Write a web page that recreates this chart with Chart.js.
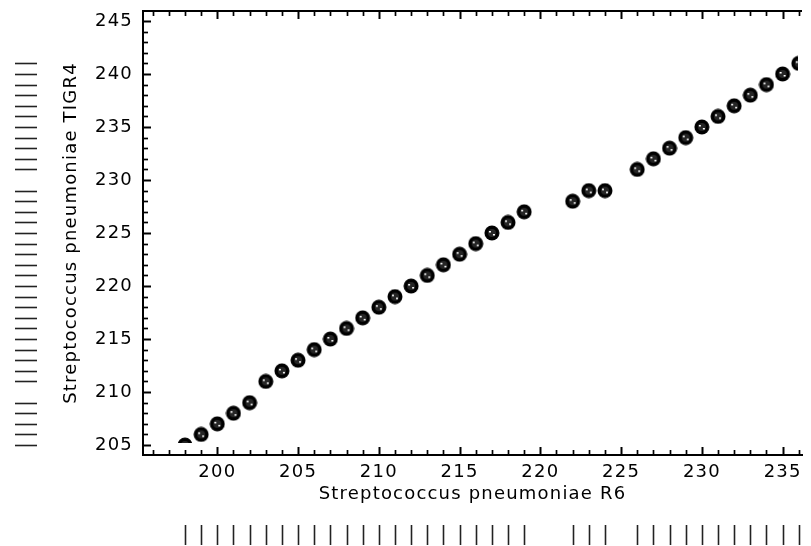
<!DOCTYPE html>
<html>
<head>
<meta charset="utf-8">
<script src="https://cdn.jsdelivr.net/npm/chart.js@4.4.1/dist/chart.umd.min.js"></script>
<style>
  html, body { margin: 0; padding: 0; background: #fff; }
  #chart { display: block; }
</style>
</head>
<body>
<canvas id="chart" width="811" height="546"></canvas>
<script>
// data
var r6    = [198,199,200,201,202,203,204,205,206,207,208,209,210,211,212,213,214,215,216,217,218,219,222,223,224,226,227,228,229,230,231,232,233,234,235,236];
var tigr4 = [205,206,207,208,209,211,212,213,214,215,216,217,218,219,220,221,222,223,224,225,226,227,228,229,229,231,232,233,234,235,236,237,238,239,240,241];
var xTicks = [200,205,210,215,220,225,230,235];
var yTicks = [205,210,215,220,225,230,235,240,245];
var xTitle = 'Streptococcus pneumoniae R6';
var yTitle = 'Streptococcus pneumoniae TIGR4';

var FONT = 'DejaVu Sans';

function unique(arr) {
  return arr.filter(function(v, i) { return arr.indexOf(v) === i; });
}

// round black marker with small white specks
function makeMarker() {
  var c = document.createElement('canvas');
  c.width = 16; c.height = 16;
  var g = c.getContext('2d');
  g.fillStyle = '#000';
  g.beginPath(); g.arc(8, 8, 7.5, 0, Math.PI * 2); g.fill();
  g.fillStyle = '#262626';
  g.beginPath(); g.arc(8, 8, 4, 0, Math.PI * 2); g.fill();
  g.fillStyle = '#fff';
  g.fillRect(5, 6, 2, 1.5);
  g.fillRect(9, 9, 2, 1.5);
  return c;
}

// letter spacing so the text is as wide as in the picture
var spacing = {
  id: 'spacing',
  beforeUpdate: function(chart) { chart.ctx.letterSpacing = '1.2px'; },
  beforeDraw: function(chart) { chart.ctx.letterSpacing = '1.2px'; }
};

// top border + inward ticks
var frame = {
  id: 'frame',
  afterDraw: function(chart) {
    var ctx = chart.ctx, xs = chart.scales.x, ys = chart.scales.y;
    var a = chart.chartArea;
    ctx.save();
    ctx.strokeStyle = '#000';
    ctx.lineWidth = 2;
    ctx.beginPath(); ctx.moveTo(a.left, a.top); ctx.lineTo(a.right, a.top); ctx.stroke();
    var v, p, len;
    for (v = Math.ceil(xs.min); v <= Math.floor(xs.max); v++) {
      p = Math.round(xs.getPixelForValue(v)) + 0.5;
      len = v % 5 === 0 ? 8 : 5;
      ctx.lineWidth = v % 5 === 0 ? 2 : 1.7;
      ctx.beginPath(); ctx.moveTo(p, a.bottom); ctx.lineTo(p, a.bottom - len); ctx.stroke();
      ctx.beginPath(); ctx.moveTo(p, a.top); ctx.lineTo(p, a.top + len); ctx.stroke();
    }
    for (v = Math.ceil(ys.min); v <= Math.floor(ys.max); v++) {
      p = Math.round(ys.getPixelForValue(v)) + 0.5;
      len = v % 5 === 0 ? 8 : 5;
      ctx.lineWidth = v % 5 === 0 ? 2 : 1.7;
      ctx.beginPath(); ctx.moveTo(a.left, p); ctx.lineTo(a.left + len, p); ctx.stroke();
    }
    ctx.restore();
  }
};

// rug marks outside the plot
var rug = {
  id: 'rug',
  afterDraw: function(chart) {
    var ctx = chart.ctx, xs = chart.scales.x, ys = chart.scales.y;
    ctx.save();
    ctx.strokeStyle = '#222';
    ctx.lineWidth = 1.6;
    unique(r6).forEach(function(v) {
      var p = Math.round(xs.getPixelForValue(v)) + 0.5;
      ctx.beginPath(); ctx.moveTo(p, 525); ctx.lineTo(p, 545); ctx.stroke();
    });
    unique(tigr4).forEach(function(v) {
      var p = Math.round(ys.getPixelForValue(v)) + 0.5;
      ctx.beginPath(); ctx.moveTo(15, p); ctx.lineTo(37, p); ctx.stroke();
    });
    ctx.restore();
  }
};

function noPad(s) { s.paddingTop = 0; s.paddingBottom = 0; s.paddingLeft = 0; s.paddingRight = 0; }

var ctx = document.getElementById('chart').getContext('2d');
var chart = new Chart(ctx, {
  type: 'scatter',
  data: {
    datasets: [{
      data: r6.map(function(x, i) { return { x: x, y: tigr4[i] }; }),
      pointStyle: makeMarker(),
      pointRadius: 8,
      pointHoverRadius: 8,
      clip: { left: 0, top: 0, right: -4, bottom: -12 }
    }]
  },
  options: {
    responsive: false,
    animation: false,
    events: [],
    layout: { padding: { left: 61, top: 11, right: 0, bottom: 41 } },
    plugins: { legend: { display: false }, tooltip: { enabled: false } },
    scales: {
      x: {
        type: 'linear',
        min: 195.4,
        max: 236.2,
        afterBuildTicks: function(s) { s.ticks = xTicks.map(function(v) { return { value: v }; }); },
        afterFit: function(s) { s.height = 50; noPad(s); },
        grid: { display: false, drawTicks: false },
        border: { display: true, color: '#000', width: 2 },
        ticks: { color: '#000', font: { family: FONT, size: 18 }, padding: 7, maxRotation: 0, autoSkip: false },
        title: { display: true, text: xTitle, color: '#000', font: { family: FONT, size: 18 }, padding: 0 }
      },
      y: {
        type: 'linear',
        min: 204.06,
        max: 245.94,
        afterBuildTicks: function(s) { s.ticks = yTicks.map(function(v) { return { value: v }; }); },
        afterFit: function(s) { s.width = 82; noPad(s); },
        grid: { display: false, drawTicks: false },
        border: { display: true, color: '#000', width: 2 },
        ticks: { color: '#000', font: { family: FONT, size: 18 }, padding: 10, autoSkip: false },
        title: { display: true, text: yTitle, color: '#000', font: { family: FONT, size: 18 }, padding: 0 }
      }
    }
  },
  plugins: [spacing, frame, rug]
});
</script>
</body>
</html>
